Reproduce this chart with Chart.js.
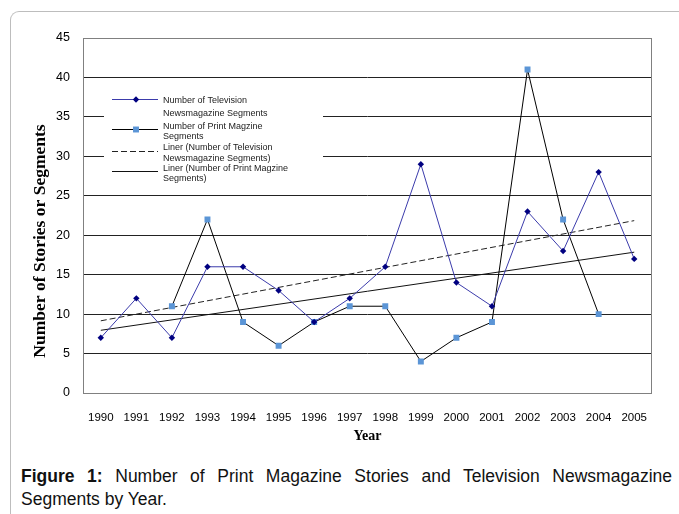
<!DOCTYPE html>
<html>
<head>
<meta charset="utf-8">
<script src="https://cdn.jsdelivr.net/npm/chart.js@4.4.0/dist/chart.umd.min.js"></script>
<style>
  body { margin: 0; background: #fff; font-family: Arial, "Liberation Sans", sans-serif; }
  .frame { position: absolute; left: 10px; top: 11px; width: 720px; height: 560px;
           border-left: 1px solid #bdbdbd; border-top: 1px solid #bdbdbd; border-top-left-radius: 9px; }
  .chart { position: absolute; left: 0; top: 0; width: 679px; height: 450px; }
  .caption { position: absolute; left: 21px; top: 465px; width: 651px; font-size: 17.5px; line-height: 23px; color: #111; }
  .caption .first { text-align: justify; text-align-last: justify; }
</style>
</head>
<body>
<div class="frame"></div>
<div class="chart"><canvas id="c" width="679" height="450"></canvas></div>
<div class="caption">
  <div class="first"><b>Figure 1:</b> Number of Print Magazine Stories and Television Newsmagazine</div>
  <div>Segments by Year.</div>
</div>
<script>
const years = ['1990', '1991', '1992', '1993', '1994', '1995', '1996', '1997',
               '1998', '1999', '2000', '2001', '2002', '2003', '2004', '2005']
const tvSegments = [7, 12, 7, 16, 16, 13, 9, 12, 16, 29, 14, 11, 23, 18, 28, 17]
const printStories = [null, null, 11, 22, 9, 6, 9, 11, 11, 4, 7, 9, 41, 22, 10, null]
// linear trend end points (1990 and 2005), middle left empty and spanned
const tvTrend = [9.15, null, null, null, null, null, null, null,
                 null, null, null, null, null, null, null, 21.85]
const printTrend = [7.95, null, null, null, null, null, null, null,
                    null, null, null, null, null, null, null, 17.85]
const yTicks = [0, 5, 10, 15, 20, 25, 30, 35, 40, 45]
const yTitle = 'Number of Stories or Segments'

const seriesNames = [
  ['Number of Television', 'Newsmagazine Segments'],
  ['Number of Print Magzine', 'Segments'],
  ['Liner (Number of Television', 'Newsmagazine Segments)'],
  ['Liner (Number of Print Magzine', 'Segments)']
]

// plot frame plus the boxed legend sitting inside the plot
const frameAndLegend = {
  id: 'frameAndLegend',
  beforeDatasetsDraw(chart) {
    const ctx = chart.ctx
    const a = chart.chartArea
    ctx.save()
    ctx.strokeStyle = '#808080'
    ctx.lineWidth = 1
    ctx.strokeRect(a.left + 0.5, a.top + 0.5, a.right - a.left - 1, a.bottom - a.top)

    const x0 = a.left + 21
    ctx.fillStyle = '#fff'
    ctx.fillRect(x0, a.top + 54, 219, 96)

    const rowY = [61, 91, 113, 133]
    const textY = [[63, 76], [89, 99], [110, 121], [131, 141]]
    ctx.font = '9px Arial, "Liberation Sans", sans-serif'
    ctx.textBaseline = 'middle'
    chart.data.datasets.forEach((ds, i) => {
      const y = a.top + rowY[i]
      ctx.strokeStyle = ds.borderColor
      ctx.lineWidth = 1
      ctx.setLineDash(ds.borderDash || [])
      ctx.beginPath()
      ctx.moveTo(x0 + 8, y + 0.5)
      ctx.lineTo(x0 + 54, y + 0.5)
      ctx.stroke()
      ctx.setLineDash([])
      if (ds.pointRadius > 0) {
        ctx.fillStyle = ds.pointBackgroundColor
        ctx.strokeStyle = ds.pointBorderColor
        Chart.helpers.drawPoint(ctx, {pointStyle: ds.pointStyle, radius: ds.pointRadius, borderWidth: 0}, x0 + 32, y + 0.5)
      }
      ctx.fillStyle = '#222'
      seriesNames[i].forEach((t, j) => ctx.fillText(t, x0 + 59, a.top + textY[i][j]))
    })
    ctx.restore()
  },
  // vertical axis title, sits a little below the middle of the plot
  afterDraw(chart) {
    const ctx = chart.ctx
    ctx.save()
    ctx.translate(40, 241)
    ctx.rotate(-Math.PI / 2)
    ctx.font = 'bold 17.5px "Liberation Serif", "Times New Roman", serif'
    ctx.fillStyle = '#000'
    ctx.textAlign = 'center'
    ctx.textBaseline = 'middle'
    ctx.fillText(yTitle, 0, 0)
    ctx.restore()
  }
}

new Chart(document.getElementById('c'), {
  type: 'line',
  data: {
    labels: years,
    datasets: [{
      label: seriesNames[0].join(' '),
      data: tvSegments,
      borderColor: '#3b3bab',
      borderWidth: 1,
      pointStyle: 'rectRot',
      pointRadius: 3.2,
      pointBackgroundColor: '#000080',
      pointBorderColor: '#000080',
      pointBorderWidth: 0,
      tension: 0
    }, {
      label: seriesNames[1].join(' '),
      data: printStories,
      borderColor: '#000',
      borderWidth: 1,
      pointStyle: 'rect',
      pointRadius: 4.2,
      pointBackgroundColor: '#5b95d6',
      pointBorderColor: '#5b95d6',
      pointBorderWidth: 0,
      tension: 0
    }, {
      label: seriesNames[2].join(' '),
      data: tvTrend,
      borderColor: '#222',
      borderWidth: 1,
      borderDash: [6, 3],
      pointRadius: 0,
      spanGaps: true
    }, {
      label: seriesNames[3].join(' '),
      data: printTrend,
      borderColor: '#111',
      borderWidth: 1,
      pointRadius: 0,
      spanGaps: true
    }]
  },
  options: {
    responsive: false,
    animation: false,
    layout: {padding: {top: 38, right: 27, left: 0, bottom: 0}},
    plugins: {
      legend: {display: false},
      tooltip: {enabled: false}
    },
    scales: {
      x: {
        offset: true,
        grid: {display: false},
        border: {display: false},
        ticks: {
          color: '#000',
          font: {family: 'Arial, "Liberation Sans", sans-serif', size: 11.5},
          padding: 10,
          maxRotation: 0,
          autoSkip: false
        },
        title: {
          display: true,
          text: 'Year',
          color: '#000',
          font: {family: '"Liberation Serif", "Times New Roman", serif', size: 14, weight: 'bold'},
          padding: {top: 0, bottom: 5}
        },
        afterFit: s => { s.height = 57 }
      },
      y: {
        min: 0,
        max: 45,
        afterBuildTicks: s => { s.ticks = yTicks.map(v => ({value: v})) },
        grid: {color: '#222', lineWidth: 1, drawTicks: false},
        border: {display: false},
        ticks: {
          color: '#000',
          font: {family: 'Arial, "Liberation Sans", sans-serif', size: 12.5},
          padding: 13
        },
        afterFit: s => { s.width = 83 }
      }
    }
  },
  plugins: [frameAndLegend]
})
</script>
</body>
</html>
